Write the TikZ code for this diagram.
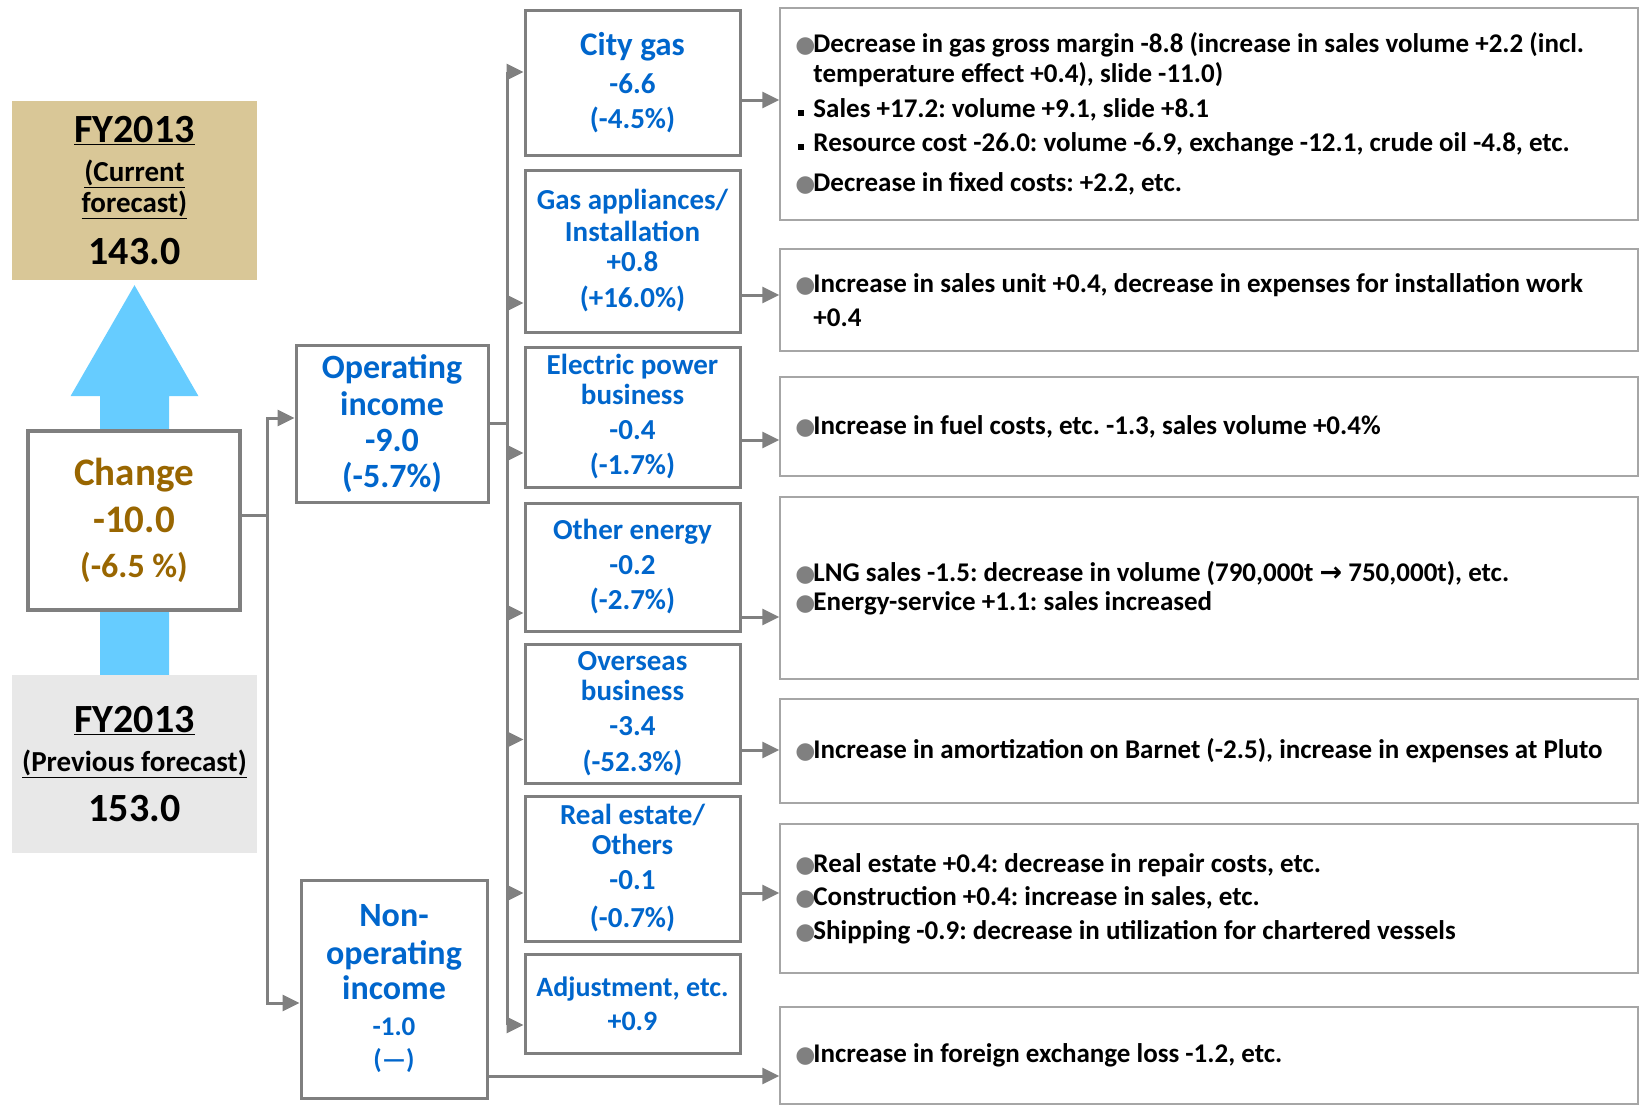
\documentclass[tikz,border=0pt]{standalone}
\usepackage{fontspec}
\setmainfont{Carlito}
\newfontfamily\symfont{DejaVu Sans}
\usepackage{tikz}
\usetikzlibrary{arrows.meta,calc}
\definecolor{curtan}{RGB}{217,199,151}
\definecolor{prevgray}{RGB}{232,232,232}
\definecolor{arrowblue}{RGB}{102,204,255}
\definecolor{chgbrown}{RGB}{153,102,0}
\definecolor{segblue}{RGB}{0,102,204}
\definecolor{boxgray}{RGB}{127,127,127}
\definecolor{wiregray}{RGB}{128,128,128}
\definecolor{notegray}{RGB}{166,166,166}
\definecolor{dotgray}{RGB}{128,128,128}
\newcommand{\fsz}[2]{\fontsize{#1}{#2}\selectfont}
\newcommand{\gdot}{\makebox[17pt][l]{\hspace{-1pt}\textcolor{dotgray}{\symfont\fsz{23}{23}●}}}
\newcommand{\sqb}{\makebox[17pt][l]{\hspace{2pt}\raisebox{2pt}{\rule{5.5pt}{5.5pt}}}}
\newcommand{\hang}{\hspace*{17pt}}
\lineskiplimit=-50pt
\frenchspacing
\tikzset{
  wire/.style={draw=wiregray,line width=3pt},
  link/.style={wire,-{Triangle[length=17pt,width=16pt]}},
  yearbox/.style={minimum width=245pt,inner sep=0pt,align=center,font=\bfseries\fsz{29}{31}},
  sumbox/.style={draw=boxgray,line width=3.5pt,fill=white,minimum width=212pt,minimum height=179pt,
                 inner sep=0pt,align=center,text=chgbrown,font=\bfseries\fsz{39}{46}},
  incbox/.style={draw=boxgray,line width=3pt,fill=white,inner sep=0pt,align=center,
                 text=segblue,font=\bfseries\fsz{34}{36}},
  segbox/.style={incbox,minimum width=215pt,font=\bfseries\fsz{29}{33}},
  notebox/.style={draw=notegray,line width=1.5pt,minimum width=858pt,inner sep=0pt},
  notetext/.style={anchor=west,inner sep=0pt,align=left,font=\bfseries\fsz{27}{31}},
}
\begin{document}
\frenchspacing
\begin{tikzpicture}[x=1pt,y=-1pt]
  \path[use as bounding box] (0,0) rectangle (1641,1106);
  \coordinate (spine) at (267,0);
  \coordinate (bus) at (507,0);

  \node[yearbox,fill=curtan,minimum height=179pt] (cur) at (134.5,190.5)
    {{\fsz{40}{40}\underline{FY2013}}\\[8pt]\underline{(Current}\\\underline{forecast)}\\[21pt]{\fsz{40}{40}143.0}};
  \node[yearbox,fill=prevgray,minimum height=178pt] (prev) at (134.5,764)
    {{\fsz{40}{40}\underline{FY2013}}\\[8pt]\underline{(Previous forecast)}\\[19pt]{\fsz{40}{40}153.0}};
  \fill[arrowblue] ($(prev.north)+(-34.5,0)$) -- ($(cur.south)+(-34.5,116)$) -- ($(cur.south)+(-64,116)$)
    -- ($(cur.south)+(0,5)$) -- ($(cur.south)+(64,116)$) -- ($(cur.south)+(34.5,116)$)
    -- ($(prev.north)+(34.5,0)$) -- cycle;
  \node[sumbox] (chg) at (134,520.5) {Change\\[1pt]-10.0\\[-1pt]{\fsz{34}{34}(-6.5 \%)}};

  \node[incbox,minimum width=192pt,minimum height=157pt] (op) at (392,423.5)
    {Operating\\[1pt]income\\-9.0\\(-5.7\%)};
  \node[incbox,minimum width=186pt,minimum height=218pt] (nonop) at (394,989)
    {Non-\\[2pt]operating\\[-1pt]income\\{\fsz{27}{27}-1.0}\\[-3pt]{\fsz{27}{27}(—)}};

  \node[segbox,minimum height=145pt] (city) at (632.5,82.5) {{\fsz{33}{33}City gas}\\[5pt]-6.6\\[2pt](-4.5\%)};
  \node[segbox,minimum height=162pt] (gas) at (632.5,251) {Gas appliances/\\[-1pt]Installation\\[-3pt]+0.8\\[3pt](+16.0\%)};
  \node[segbox,minimum height=140pt] (elec) at (632.5,417) {Electric power\\[-3pt]business\\[2pt]-0.4\\[2pt](-1.7\%)};
  \node[segbox,minimum height=128pt] (other) at (632.5,567) {Other energy\\[2pt]-0.2\\[2pt](-2.7\%)};
  \node[segbox,minimum height=139pt] (ovs) at (632.5,713.5) {Overseas\\[-3pt]business\\[2pt]-3.4\\[3pt](-52.3\%)};
  \node[segbox,minimum height=145pt] (real) at (632.5,868.5) {Real estate/\\[-3pt]Others\\[2pt]-0.1\\[5pt](-0.7\%)};
  \node[segbox,minimum height=99pt,font=\bfseries\fsz{28}{33}] (adj) at (632.5,1003.5) {Adjustment, etc.\\[1pt]+0.9};

  \node[notebox,minimum height=212pt] (citynote) at (1209,114) {};
  \node[notebox,minimum height=102pt] (gasnote) at (1209,300) {};
  \node[notebox,minimum height=99pt] (elecnote) at (1209,426.5) {};
  \node[notebox,minimum height=182pt] (othernote) at (1209,588) {};
  \node[notebox,minimum height=104pt] (ovsnote) at (1209,751) {};
  \node[notebox,minimum height=149pt] (realnote) at (1209,898.5) {};
  \node[notebox,minimum height=97pt] (nonopnote) at (1209,1055.5) {};

  \node[notetext] (citytext) at ([xshift=17pt]citynote.west)
    {\gdot Decrease in gas gross margin -8.8 (increase in sales volume +2.2 (incl.\\[-1pt]
     \hang temperature effect +0.4), slide -11.0)\\[4pt]
     \sqb Sales +17.2: volume +9.1, slide +8.1\\[3pt]
     \sqb Resource cost -26.0: volume -6.9, exchange -12.1, crude oil -4.8, etc.\\[9pt]
     \gdot Decrease in fixed costs: +2.2, etc.};
  \node[notetext] (gastext) at ([xshift=17pt]gasnote.west)
    {\gdot Increase in sales unit +0.4, decrease in expenses for installation work\\[3pt]
     \hang +0.4};
  \node[notetext] (electext) at ([xshift=17pt]elecnote.west)
    {\gdot Increase in fuel costs, etc. -1.3, sales volume +0.4\%};
  \node[notetext] (othertext) at ([xshift=17pt]othernote.west)
    {\gdot LNG sales -1.5: decrease in volume (790,000t {\symfont\bfseries →} 750,000t), etc.\\[-2pt]
     \gdot Energy-service +1.1: sales increased};
  \node[notetext] (ovstext) at ([xshift=17pt]ovsnote.west)
    {\gdot Increase in amortization on Barnet (-2.5), increase in expenses at Pluto};
  \node[notetext] (realtext) at ([xshift=17pt]realnote.west)
    {\gdot Real estate +0.4: decrease in repair costs, etc.\\[2pt]
     \gdot Construction +0.4: increase in sales, etc.\\[3pt]
     \gdot Shipping -0.9: decrease in utilization for chartered vessels};
  \node[notetext] (nonoptext) at ([xshift=17pt]nonopnote.west)
    {\gdot Increase in foreign exchange loss -1.2, etc.};

  \draw[wire] ([yshift=5pt]chg.east) -- ([yshift=5pt]chg.east -| spine);
  \draw[link] ([yshift=5pt]chg.east -| spine) |- ([yshift=5.5pt]op.west);
  \draw[link] ([yshift=5pt]chg.east -| spine) |- ([yshift=-14pt]nonop.west);

  \draw[wire] (op.east) -- (op.east -| bus);
  \draw[wire] ([yshift=10.5pt]city.west -| bus) -- ([yshift=-21.5pt]adj.west -| bus);
  \foreach \seg/\dy in {city/10.5,gas/-52,elec/-36,other/-46,ovs/-26,real/-24.5,adj/-21.5}
    \draw[link] ([yshift=\dy pt]\seg.west -| bus) -- ([yshift=\dy pt]\seg.west);

  \foreach \src/\dst/\dy in {city/citynote/-17.5,gas/gasnote/-44,elec/elecnote/-23,other/othernote/-50,
                             ovs/ovsnote/-36.5,real/realnote/-24.5,nonop/nonopnote/-87}
    \draw[link] ([yshift=\dy pt]\src.east) -- ([yshift=\dy pt]\src.east -| \dst.west);
\end{tikzpicture}
\end{document}
